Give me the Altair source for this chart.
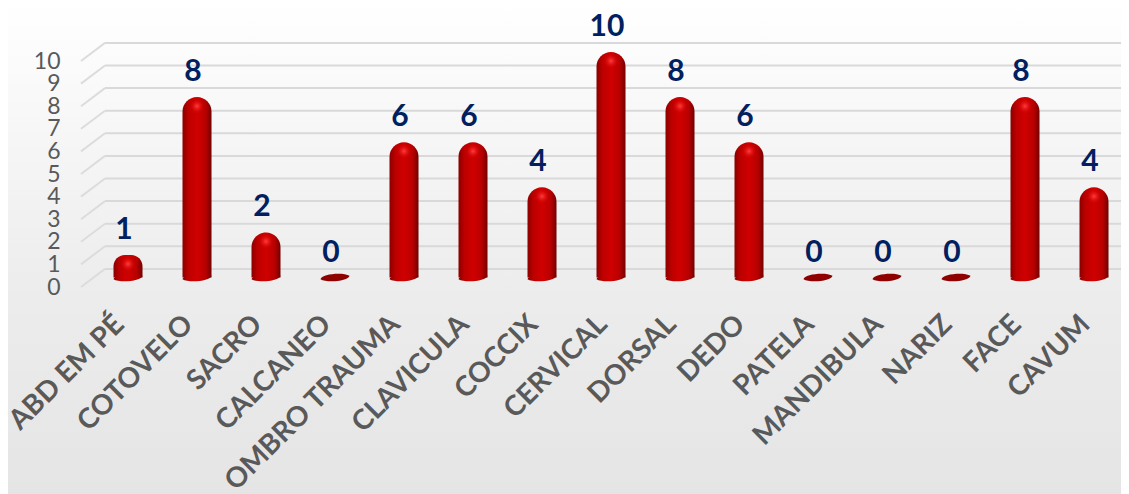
import altair as alt
import pandas as pd

categories = ["ABD EM PÉ", "COTOVELO", "SACRO", "CALCANEO", "OMBRO TRAUMA", "CLAVICULA", "COCCIX",
              "CERVICAL", "DORSAL", "DEDO", "PATELA", "MANDIBULA", "NARIZ", "FACE", "CAVUM"]
values = [1, 8, 2, 0, 6, 6, 4, 10, 8, 6, 0, 0, 0, 8, 4]
grid_values = [0, 1, 2, 3, 4, 5, 6, 7, 8, 9, 10]
depth = 0.8

df = pd.DataFrame({"cat": categories, "val": values})
grid = pd.DataFrame({"v": grid_values, "back": [g + depth for g in grid_values]})
bg = pd.DataFrame({"a": [0]})

FONT = "Lato"
W, H = 1040, 279
xscale = alt.Scale(domain=categories, range=[12.5, 1047.5], paddingInner=0, paddingOuter=0)
xenc = alt.X("cat:N", scale=xscale, sort=None, title=None,
             axis=alt.Axis(labelAngle=-45, labelFontSize=28, labelFont=FONT, labelFontWeight="bold",
                           labelColor="#595959", domain=False, ticks=False, labelPadding=23,
                           labelOffset=-18, labelLimit=300, labelOverlap=False, zindex=1))
grid_scale = alt.Scale(domain=[0, 10], range=[279, 53], nice=False)
bar_scale = alt.Scale(domain=[0, 10], range=[269.5, 44], nice=False)

page_grad = {"gradient": "linear", "x1": 0, "y1": 0, "x2": 0, "y2": 1,
             "stops": [{"offset": 0, "color": "#ffffff"}, {"offset": 0.6, "color": "#ececec"},
                       {"offset": 1, "color": "#e5e5e5"}]}
bar_grad = {"gradient": "linear", "x1": 0, "y1": 0, "x2": 1, "y2": 0,
            "stops": [{"offset": 0, "color": "#8a0000"}, {"offset": 0.2, "color": "#bc0000"},
                      {"offset": 0.5, "color": "#d00000"}, {"offset": 0.8, "color": "#b80000"},
                      {"offset": 1, "color": "#720000"}]}
shine = {"gradient": "radial", "x1": 0.5, "y1": 0.5, "x2": 0.5, "y2": 0.5, "r1": 0, "r2": 0.5,
         "stops": [{"offset": 0, "color": "rgba(255,64,64,1)"}, {"offset": 1, "color": "rgba(224,0,0,0)"}]}
ellipse = "M-1 .12C-.95 -.25 .55 -.4 1 -.12C.95 .25 -.55 .4 -1 .12Z"

background = alt.Chart(bg).mark_rect(fill=page_grad).encode(
    x=alt.value(-73), x2=alt.value(W), y=alt.value(-8), y2=alt.value(486))

diag = alt.Chart(grid).mark_rule(color="#dcdcdc", strokeWidth=2).encode(
    x=alt.value(0), x2=alt.value(24),
    y=alt.Y("v:Q", scale=grid_scale,
            axis=alt.Axis(values=grid_values, format="d", domain=False, ticks=False, grid=False, title=None,
                          labelFont=FONT, labelFontSize=23, labelColor="#595959", labelPadding=21,
                          labelOverlap=False, zindex=1)),
    y2="back:Q")
back = alt.Chart(grid).mark_rule(color="#d9d9d9", strokeWidth=2).encode(
    x=alt.value(24), x2=alt.value(W),
    y=alt.Y("back:Q", scale=grid_scale, axis=None))

bars = alt.Chart(df).transform_filter("datum.val > 0").mark_bar(
    size=29, fill=bar_grad, cornerRadiusTopLeft=14.5, cornerRadiusTopRight=14.5).encode(
    x=xenc, y=alt.Y("val:Q", scale=bar_scale, axis=None), y2=alt.datum(0))
base = alt.Chart(df).transform_filter("datum.val > 0").transform_calculate(zero="0").mark_point(
    shape=ellipse, size=841, fill=bar_grad, filled=True, opacity=1, strokeWidth=0).encode(
    x=xenc, y=alt.Y("zero:Q", scale=bar_scale, axis=None))
flat = alt.Chart(df).transform_filter("datum.val == 0").mark_point(
    shape=ellipse, size=841, fill="#8f0000", filled=True, opacity=1, strokeWidth=0).encode(
    x=xenc, y=alt.Y("val:Q", scale=bar_scale, axis=None))
glow = alt.Chart(df).transform_filter("datum.val > 0").mark_circle(
    size=220, fill=shine, opacity=1, yOffset=9).encode(
    x=xenc, y=alt.Y("val:Q", scale=bar_scale, axis=None))
labels = alt.Chart(df).mark_text(font=FONT, fontWeight="bold", fontSize=30, color="#002060",
                                 dx=-4, dy=-25, baseline="middle").encode(
    x=xenc, y=alt.Y("val:Q", scale=bar_scale, axis=None), text="val:Q")

chart = alt.layer(background, diag, back, bars, base, flat, glow, labels).resolve_scale(y="independent").properties(
    width=W, height=H, padding={"left": 73, "top": 0, "right": 0, "bottom": 207},
    autosize=alt.AutoSizeParams(type="none")
).configure_view(stroke=None)

chart.save("out.html", embed_options={"renderer": "svg", "actions": False})
